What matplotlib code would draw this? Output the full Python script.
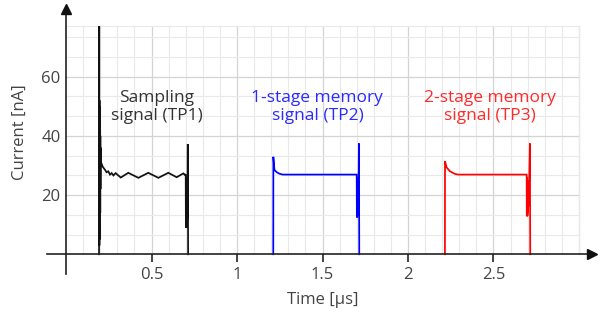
import matplotlib
matplotlib.use("Agg")
import matplotlib.pyplot as plt
import numpy as np

plt.rcParams['font.family'] = ['Open Sans', 'DejaVu Sans']

# ---- data ----
tp1_t = [0.193, 0.194, 0.1950, 0.1955, 0.1960, 0.1965, 0.1970, 0.1975, 0.1980, 0.1985,
         0.1990, 0.1995, 0.2000, 0.2005, 0.2010, 0.2020, 0.2030, 0.2050,
         0.215, 0.228, 0.237, 0.247, 0.257, 0.267, 0.277, 0.290, 0.320, 0.364,
         0.423, 0.481, 0.540, 0.598, 0.647, 0.686,
         0.695, 0.700, 0.701, 0.702, 0.703, 0.704, 0.705, 0.706,
         0.707, 0.708, 0.709, 0.710, 0.712, 0.713, 0.714]
tp1_v = [0.0, 77.0, 3.0, 52.0, 5.0, 50.0, 6.0, 48.0, 8.0, 45.0,
         10.0, 42.0, 14.0, 40.0, 22.0, 36.0, 30.0, 31.0,
         29.5, 28.5, 27.7, 28.0, 26.9, 27.4, 26.6, 27.4, 25.9, 27.5,
         25.8, 27.5, 25.8, 27.5, 26.0, 27.3,
         26.8, 27.0, 9.0, 26.0, 9.0, 25.5, 9.5, 25.0,
         10.0, 24.0, 12.0, 20.0, 37.2, 20.0, 0.0]

tp2_t = [1.212, 1.2125, 1.219, 1.235, 1.248, 1.267, 1.700, 1.701, 1.702, 1.703, 1.704,
         1.705, 1.706, 1.707, 1.708, 1.710, 1.713, 1.715]
tp2_v = [0.0, 32.9, 28.4, 27.6, 27.2, 26.9, 26.9, 12.5, 26.0, 12.5, 25.0,
         13.0, 24.0, 14.0, 22.0, 16.0, 37.4, 0.0]

tp3_t = [2.216, 2.2165, 2.226, 2.246, 2.275, 2.294, 2.694, 2.695, 2.696, 2.697, 2.698,
         2.699, 2.700, 2.702, 2.704, 2.706, 2.713, 2.715]
tp3_v = [0.0, 31.4, 29.3, 28.0, 27.1, 26.9, 26.9, 13.0, 26.0, 12.8, 25.0,
         13.0, 24.0, 14.0, 22.0, 16.0, 37.4, 0.0]

x_ticks = [0.5, 1.0, 1.5, 2.0, 2.5]
x_tick_labels = ['0.5', '1', '1.5', '2', '2.5']
y_ticks = [20, 40, 60]
y_tick_labels = ['20', '40', '60']

labels = ['Sampling\nsignal (TP1)', '1-stage memory\nsignal (TP2)', '2-stage memory\nsignal (TP3)']
label_x = [0.53, 1.47, 2.48]
label_y = [49.7, 49.7, 49.7]
colors = ['#111111', '#0000ff', '#ff0000']
text_colors = ['#333333', '#2a2aff', '#ff2a2a']

# ---- figure ----
fig = plt.figure(figsize=(6.03, 3.17), dpi=100)
ax = fig.add_axes([0.0755, 0.1325, 0.913, 0.855])
ax.set_xlim(-0.12, 3.1)
ax.set_ylim(-7.0, 84.5)

# grid (0..3 x 0..77)
gx_min, gx_max, gy_min, gy_max = 0.0, 3.0, 0.0, 77.0
for xv in np.arange(0.1, 3.0001, 0.1):
    major = abs(xv * 2 - round(xv * 2)) < 1e-6
    ax.plot([xv, xv], [gy_min, gy_max], color='#d4d4d4' if major else '#e9e9e9',
            lw=0.9 if major else 0.8, zorder=0)
for yv in np.arange(20 / 3, 77.001, 20 / 3):
    major = abs(yv / 20 - round(yv / 20)) < 1e-6
    ax.plot([gx_min, gx_max], [yv, yv], color='#d4d4d4' if major else '#e9e9e9',
            lw=0.9 if major else 0.8, zorder=0)
ax.plot([gx_min, gx_max], [gy_max, gy_max], color='#e9e9e9', lw=0.8, zorder=0)
ax.plot([gx_max, gx_max], [gy_min, gy_max], color='#e9e9e9', lw=0.8, zorder=0)

# signals
for t, v, c in zip([tp1_t, tp2_t, tp3_t], [tp1_v, tp2_v, tp3_v], colors):
    ax.plot(t, v, color=c, lw=1.25, zorder=3, solid_joinstyle='miter')

for x, y, s, c in zip(label_x, label_y, labels, text_colors):
    ax.text(x, y, s, color=c, fontsize=12.5, ha='center', va='center',
            linespacing=1.1, zorder=4)

# axes
for sp in ['top', 'right']:
    ax.spines[sp].set_visible(False)
ax.spines['bottom'].set_position(('data', 0))
ax.spines['left'].set_position(('data', 0))
ax.spines['bottom'].set_bounds(-0.11, 3.05)
ax.spines['left'].set_bounds(-6.5, 82)
for sp in ['bottom', 'left']:
    ax.spines[sp].set_color('#222222')
    ax.spines[sp].set_linewidth(1.2)
    ax.spines[sp].set_zorder(5)
ax.plot([3.075], [0], marker='>', color='#111111', markersize=7, clip_on=False, zorder=6)
ax.plot([0], [82.7], marker='^', color='#111111', markersize=7, clip_on=False, zorder=6)

ax.set_xticks(x_ticks)
ax.set_xticklabels(x_tick_labels)
ax.set_yticks(y_ticks)
ax.set_yticklabels(y_tick_labels)
ax.tick_params(axis='x', direction='out', length=6, width=1.2, color='#222222',
               labelsize=12, labelcolor='#444444', pad=3)
ax.tick_params(axis='y', length=0, labelsize=12, labelcolor='#444444', pad=4)

fig.text(20 / 603, 1 - 132 / 317, 'Current [nA]', rotation=90, fontsize=12,
         color='#444444', ha='center', va='center')
fig.text(323 / 603, 1 - 300 / 317, 'Time [μs]', fontsize=12,
         color='#444444', ha='center', va='center')

fig.savefig('out.png', dpi=100)
